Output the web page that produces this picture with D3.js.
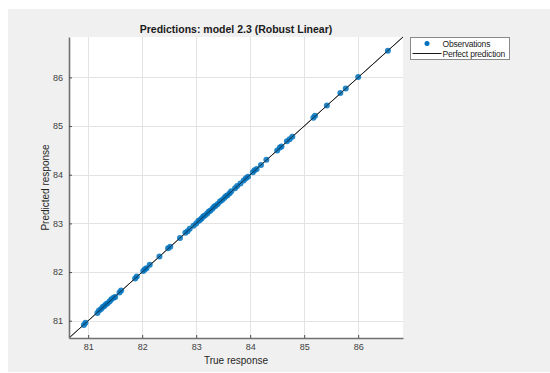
<!DOCTYPE html>
<html>
<head>
<meta charset="utf-8">
<script src="https://cdn.jsdelivr.net/npm/d3@7"></script>
<style>
  html, body { margin: 0; padding: 0; background: #ffffff; }
  svg { display: block; font-family: "Liberation Sans", Arial, sans-serif; }
</style>
</head>
<body>
<svg id="chart" width="550" height="373"></svg>
<script>
// True response values of each observation
const trueResponse = [
  80.92, 80.95, 81.17, 81.20, 81.24, 81.27, 81.30, 81.33, 81.36, 81.40,
  81.43, 81.47, 81.50, 81.58, 81.61, 81.87, 81.90, 82.02, 82.05, 82.08,
  82.14, 82.32, 82.48, 82.52, 82.70, 82.80, 82.84, 82.88, 82.95, 83.00,
  83.04, 83.07, 83.10, 83.13, 83.16, 83.20, 83.23, 83.26, 83.30, 83.33,
  83.36, 83.40, 83.44, 83.48, 83.52, 83.55, 83.58, 83.62, 83.65, 83.72,
  83.76, 83.82, 83.88, 83.92, 83.96, 84.05, 84.08, 84.12, 84.20, 84.30,
  84.50, 84.55, 84.58, 84.68, 84.73, 84.78, 85.17, 85.20, 85.42, 85.67,
  85.77, 86.00, 86.55
];
// Model predictions for the same observations
const predictedResponse = [
  80.91, 80.96, 81.16, 81.21, 81.24, 81.28, 81.30, 81.34, 81.36, 81.40,
  81.44, 81.47, 81.49, 81.58, 81.62, 81.87, 81.91, 82.02, 82.06, 82.08,
  82.15, 82.32, 82.49, 82.52, 82.70, 82.81, 82.84, 82.89, 82.95, 83.00,
  83.05, 83.07, 83.10, 83.14, 83.16, 83.20, 83.24, 83.26, 83.30, 83.34,
  83.36, 83.40, 83.45, 83.48, 83.52, 83.56, 83.58, 83.62, 83.66, 83.72,
  83.77, 83.82, 83.88, 83.93, 83.96, 84.05, 84.09, 84.12, 84.20, 84.31,
  84.50, 84.56, 84.58, 84.69, 84.73, 84.78, 85.17, 85.21, 85.42, 85.68,
  85.77, 86.01, 86.55
];
const xTicks = [81, 82, 83, 84, 85, 86];
const yTicks = [81, 82, 83, 84, 85, 86];
const axisRange = [80.645, 86.83];

const titleText = "Predictions: model 2.3 (Robust Linear)";
const xLabel = "True response";
const yLabel = "Predicted response";
const legendLabels = ["Observations", "Perfect prediction"];

const svg = d3.select("#chart");
const plot = { left: 69, top: 37, right: 403, bottom: 338 };

// figure background
svg.append("rect").attr("x", 8).attr("y", 9).attr("width", 542).attr("height", 363)
  .attr("fill", "#f0f0f0");

const x = d3.scaleLinear().domain(axisRange).range([plot.left, plot.right]);
const y = d3.scaleLinear().domain(axisRange).range([plot.bottom, plot.top]);

// axes area
svg.append("rect").attr("x", plot.left).attr("y", plot.top)
  .attr("width", plot.right - plot.left).attr("height", plot.bottom - plot.top)
  .attr("fill", "#ffffff");

// grid
const grid = svg.append("g").attr("stroke", "#e3e3e3").attr("stroke-width", 1);
grid.selectAll("line.v").data(xTicks).join("line").attr("class", "v")
  .attr("x1", d => Math.round(x(d)) + 0.5).attr("x2", d => Math.round(x(d)) + 0.5)
  .attr("y1", plot.top).attr("y2", plot.bottom);
grid.selectAll("line.h").data(yTicks).join("line").attr("class", "h")
  .attr("y1", d => Math.round(y(d)) + 0.5).attr("y2", d => Math.round(y(d)) + 0.5)
  .attr("x1", plot.left).attr("x2", plot.right);

// perfect prediction line
svg.append("line")
  .attr("x1", x(axisRange[0])).attr("y1", y(axisRange[0]))
  .attr("x2", x(axisRange[1])).attr("y2", y(axisRange[1]))
  .attr("stroke", "#1a1a1a").attr("stroke-width", 1);

// observations
svg.append("g").selectAll("circle").data(trueResponse).join("circle")
  .attr("cx", d => x(d))
  .attr("cy", (d, i) => y(predictedResponse[i]))
  .attr("r", 3)
  .attr("fill", "#0072bd")
  .attr("fill-opacity", 0.85);

// line drawn again on top so it runs through the markers
svg.append("line")
  .attr("x1", x(axisRange[0])).attr("y1", y(axisRange[0]))
  .attr("x2", x(axisRange[1])).attr("y2", y(axisRange[1]))
  .attr("stroke", "#1a1a1a").attr("stroke-width", 0.8).attr("stroke-opacity", 0.8);

// axes
const xAxis = d3.axisBottom(x).tickValues(xTicks).tickSizeInner(-3).tickSizeOuter(0)
  .tickPadding(6).tickFormat(d3.format("d"));
const yAxis = d3.axisLeft(y).tickValues(yTicks).tickSizeInner(-3).tickSizeOuter(0)
  .tickPadding(6).tickFormat(d3.format("d"));

const gx = svg.append("g").attr("transform", `translate(0,${plot.bottom})`).call(xAxis);
const gy = svg.append("g").attr("transform", `translate(${plot.left},0)`).call(yAxis);
[gx, gy].forEach(g => {
  g.select(".domain").attr("stroke", "#707070").attr("stroke-width", 1.6);
  g.selectAll(".tick line").attr("stroke", "#505050");
  g.selectAll(".tick text").attr("fill", "#404040")
    .style("font-size", "9px").style("font-family", "Liberation Sans, Arial, sans-serif");
});

// title and axis labels
svg.append("text").attr("x", (plot.left + plot.right) / 2).attr("y", 33)
  .attr("text-anchor", "middle").attr("font-weight", "bold").attr("font-size", "10.5px")
  .attr("fill", "#1a1a1a").text(titleText);
svg.append("text").attr("x", (plot.left + plot.right) / 2).attr("y", 364)
  .attr("text-anchor", "middle").attr("font-size", "10px").attr("fill", "#262626").text(xLabel);
svg.append("text")
  .attr("transform", `translate(49,${(plot.top + plot.bottom) / 2}) rotate(-90)`)
  .attr("text-anchor", "middle").attr("font-size", "10px").attr("fill", "#262626").text(yLabel);

// legend
const lg = svg.append("g").attr("transform", "translate(410,37)");
lg.append("rect").attr("x", 0.5).attr("y", 0.5).attr("width", 99).attr("height", 22)
  .attr("fill", "#ffffff").attr("stroke", "#8a8a8a").attr("stroke-width", 1);
lg.append("circle").attr("cx", 17).attr("cy", 6.5).attr("r", 2.5).attr("fill", "#0072bd");
lg.append("line").attr("x1", 2.5).attr("x2", 31.5).attr("y1", 16.5).attr("y2", 16.5)
  .attr("stroke", "#1a1a1a").attr("stroke-width", 1);
lg.selectAll("text.lab").data(legendLabels).join("text").attr("class", "lab")
  .attr("x", 32.5).attr("y", (d, i) => 9.5 + i * 10.5)
  .attr("font-size", "8.5px").attr("letter-spacing", "-0.2px")
  .attr("fill", "#1a1a1a").text(d => d);
</script>
</body>
</html>
